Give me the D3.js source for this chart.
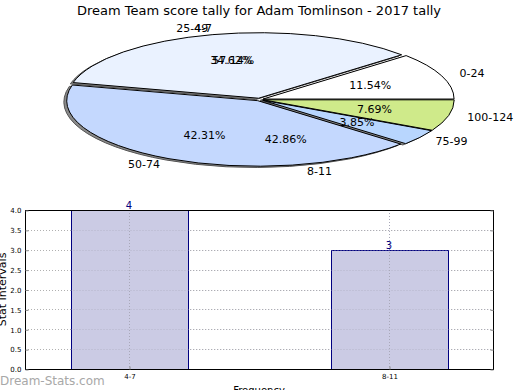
<!DOCTYPE html>
<html>
<head>
<meta charset="utf-8">
<script src="https://cdn.jsdelivr.net/npm/d3@7"></script>
<style>
  body { margin: 0; background: #fff; }
  svg { display: block; font-family: "DejaVu Sans", sans-serif; }
</style>
</head>
<body>
<div id="chart"></div>
<script>
// score tally pie
var scoreLabels = ["0-24", "25-49", "50-74", "75-99", "100-124"];
var scoreCounts = [3, 9, 11, 1, 2];
var scoreColors = ["#ffffff", "#eaf2ff", "#c4d8fe", "#b8d6fe", "#cfea8a"];

// stat interval frequencies (second pie + bars)
var statLabels = ["4-7", "8-11"];
var statCounts = [4, 3];

var yTicks = [0, 0.5, 1, 1.5, 2, 2.5, 3, 3.5, 4];

var title = "Dream Team score tally for Adam Tomlinson - 2017 tally";

var W = 520, H = 390;
var svg = d3.select("#chart").append("svg")
    .attr("width", W)
    .attr("height", H);

svg.append("text")
    .attr("x", 259)
    .attr("y", 15)
    .attr("text-anchor", "middle")
    .attr("font-size", "13px")
    .text(title);

// ---- pie ----
var cx = 259.5, cy = 99.5, rx = 191, ry = 65.5;
var explode = 0.02;

// matplotlib style: start at 3 o'clock, counter clockwise
var pie = d3.pie().sort(null).startAngle(Math.PI / 2).endAngle(Math.PI / 2 - 2 * Math.PI);
var arc = d3.arc().innerRadius(0).outerRadius(1);

function slicePos(d, dist) {
    var m = (d.startAngle + d.endAngle) / 2;
    var ex = Math.sin(m) * explode, ey = -Math.cos(m) * explode;
    return {
        ex: ex, ey: ey,
        x: cx + (ex + Math.sin(m) * dist) * rx,
        y: cy + (ey - Math.cos(m) * dist) * ry
    };
}

var scoreArcs = pie(scoreCounts);
var scoreTotal = d3.sum(scoreCounts);

// shadow
svg.append("g").selectAll("path")
    .data(scoreArcs)
    .enter().append("path")
    .attr("d", arc)
    .attr("transform", function (d) {
        var p = slicePos(d, 0);
        return "translate(" + (cx + (p.ex - 0.015) * rx) + "," + (cy + (p.ey + 0.02) * ry) + ") scale(" + rx + "," + ry + ")";
    })
    .attr("fill", "#8a8a8a")
    .attr("stroke", "#555")
    .attr("stroke-width", 1)
    .attr("vector-effect", "non-scaling-stroke");

svg.append("g").selectAll("path")
    .data(scoreArcs)
    .enter().append("path")
    .attr("d", arc)
    .attr("transform", function (d) {
        var p = slicePos(d, 0);
        return "translate(" + (cx + p.ex * rx) + "," + (cy + p.ey * ry) + ") scale(" + rx + "," + ry + ")";
    })
    .attr("fill", function (d, i) { return scoreColors[i]; })
    .attr("stroke", "#000")
    .attr("stroke-width", 1)
    .attr("vector-effect", "non-scaling-stroke");

function pieLabels(arcs, labels, total) {
    var g = svg.append("g").attr("font-size", "11px");
    g.selectAll(".lab")
        .data(arcs)
        .enter().append("text")
        .attr("class", "lab")
        .attr("x", function (d) { return slicePos(d, 1.1).x; })
        .attr("y", function (d) { return slicePos(d, 1.1).y; })
        .attr("dy", "0.35em")
        .attr("text-anchor", function (d) {
            return slicePos(d, 1.1).x > cx ? "start" : "end";
        })
        .text(function (d, i) { return labels[i]; });
    g.selectAll(".pct")
        .data(arcs)
        .enter().append("text")
        .attr("class", "pct")
        .attr("x", function (d) { return slicePos(d, 0.6).x; })
        .attr("y", function (d) { return slicePos(d, 0.6).y; })
        .attr("dy", "0.35em")
        .attr("text-anchor", "middle")
        .text(function (d) { return (d.value / total * 100).toFixed(2) + "%"; });
}

pieLabels(scoreArcs, scoreLabels, scoreTotal);
pieLabels(pie(statCounts), statLabels, d3.sum(statCounts));

// ---- bar chart ----
var bx0 = 25, bx1 = 493, by0 = 210, by1 = 369;
var x = d3.scaleLinear().domain([-0.4, 1.4]).range([bx0, bx1]);
var y = d3.scaleLinear().domain([0, 4]).range([by1, by0]);
var barW = 0.45;

var grid = svg.append("g")
    .attr("stroke", "#b0b0b0")
    .attr("stroke-width", 1)
    .attr("stroke-dasharray", "1,2");
grid.selectAll(".hg")
    .data(yTicks.slice(1, -1))
    .enter().append("line")
    .attr("x1", bx0).attr("x2", bx1)
    .attr("y1", function (d) { return Math.round(y(d)) + 0.5; })
    .attr("y2", function (d) { return Math.round(y(d)) + 0.5; });

svg.append("g").selectAll("rect")
    .data(statCounts)
    .enter().append("rect")
    .attr("x", function (d, i) { return Math.round(x(i - barW / 2)) + 0.5; })
    .attr("y", function (d) { return Math.round(y(d)) + 0.5; })
    .attr("width", function () { return Math.round(x(barW) - x(0)); })
    .attr("height", function (d) { return Math.round(y(0) - y(d)); })
    .attr("fill", "#cbcbe4")
    .attr("stroke", "#000080")
    .attr("stroke-width", 1);

// grid over bars, as in the reference
var grid2 = svg.append("g")
    .attr("stroke", "#a8a8b8")
    .attr("stroke-width", 1)
    .attr("stroke-dasharray", "1,2");
grid2.selectAll(".hg")
    .data(yTicks.slice(1, -1))
    .enter().append("line")
    .attr("x1", function (d) { return d3.min(statCounts.map(function (v, i) { return x(i - barW / 2); })); })
    .attr("x2", bx1)
    .attr("y1", function (d) { return Math.round(y(d)) + 0.5; })
    .attr("y2", function (d) { return Math.round(y(d)) + 0.5; })
    .attr("stroke-opacity", 0.6);
grid2.selectAll(".vg")
    .data(statCounts)
    .enter().append("line")
    .attr("x1", function (d, i) { return Math.round(x(i)) + 0.5; })
    .attr("x2", function (d, i) { return Math.round(x(i)) + 0.5; })
    .attr("y1", by0).attr("y2", by1);

svg.append("g").selectAll("text")
    .data(statCounts)
    .enter().append("text")
    .attr("x", function (d, i) { return x(i); })
    .attr("y", function (d) { return y(d) - 1; })
    .attr("text-anchor", "middle")
    .attr("font-size", "10px")
    .attr("fill", "#000080")
    .text(function (d) { return d; });

// axes frame
svg.append("rect")
    .attr("x", bx0 + 0.5).attr("y", by0 + 0.5)
    .attr("width", bx1 - bx0).attr("height", by1 - by0)
    .attr("fill", "none")
    .attr("stroke", "#000")
    .attr("stroke-width", 1);

var yAxis = svg.append("g")
    .attr("transform", "translate(" + (bx0 + 0.5) + ",0.5)")
    .call(d3.axisLeft(y).tickValues(yTicks).tickFormat(d3.format(".1f")).tickSize(-3).tickPadding(4));
yAxis.select(".domain").remove();
yAxis.selectAll("text").attr("font-size", "7px").attr("font-family", "DejaVu Sans");
yAxis.selectAll("line").attr("stroke", "#888");

var yAxisR = svg.append("g")
    .attr("transform", "translate(" + (bx1 + 0.5) + ",0.5)")
    .call(d3.axisRight(y).tickValues(yTicks).tickFormat("").tickSize(-3));
yAxisR.select(".domain").remove();
yAxisR.selectAll("line").attr("stroke", "#888");

var xAxis = svg.append("g")
    .attr("transform", "translate(0.5," + (by1 + 0.5) + ")")
    .call(d3.axisBottom(x).tickValues([0, 1]).tickFormat(function (d) { return statLabels[d]; }).tickSize(-3).tickPadding(5));
xAxis.select(".domain").remove();
xAxis.selectAll("text").attr("font-size", "7px").attr("font-family", "DejaVu Sans");
xAxis.selectAll("line").attr("stroke", "#888");

svg.append("text")
    .attr("x", (bx0 + bx1) / 2)
    .attr("y", 394)
    .attr("text-anchor", "middle")
    .attr("font-size", "10px")
    .text("Frequency");

svg.append("text")
    .attr("transform", "translate(6," + ((by0 + by1) / 2) + ") rotate(-90)")
    .attr("text-anchor", "middle")
    .attr("font-size", "11px")
    .text("Stat Intervals");

svg.append("text")
    .attr("x", 0)
    .attr("y", 385)
    .attr("font-size", "12px")
    .attr("fill", "#a8a8a8")
    .text("Dream-Stats.com");
</script>
</body>
</html>
